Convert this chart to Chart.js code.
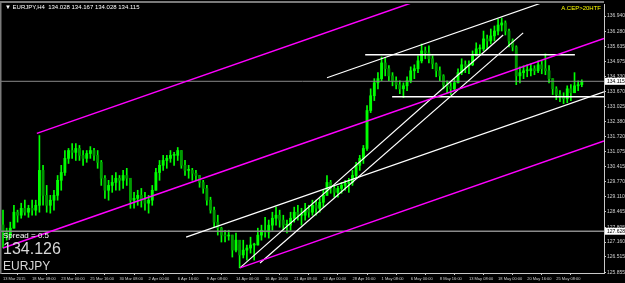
<!DOCTYPE html>
<html>
<head>
<meta charset="utf-8">
<script src="https://cdn.jsdelivr.net/npm/chart.js@4.4.1/dist/chart.umd.min.js"></script>
<style>
    html, body { margin: 0; padding: 0; background: #000; }
    #wrap { width: 625px; height: 283px; }
</style>
</head>
<body>
<div id="wrap"><canvas id="chart" width="625" height="283"></canvas></div>
<script>
// EURJPY H4, one element = two H4 bars
const xLabels = ["13 Mar 2015", "18 Mar 08:00", "23 Mar 00:00", "25 Mar 16:00", "30 Mar 08:00",
    "2 Apr 00:00", "6 Apr 16:00", "9 Apr 08:00", "14 Apr 00:00", "16 Apr 16:00", "21 Apr 08:00",
    "24 Apr 00:00", "28 Apr 16:00", "1 May 08:00", "6 May 00:00", "8 May 16:00", "13 May 08:00",
    "18 May 00:00", "20 May 16:00", "25 May 08:00"];
const labelStep = 8;

const yTicks = [136.940, 136.280, 135.635, 134.975, 134.330, 133.670, 133.025, 132.380, 131.720,
    131.075, 130.415, 129.770, 129.110, 128.465, 127.805, 127.160, 126.515, 125.855];

const highs = [
    128.54,127.76,128.02,128.75,128.54,128.84,128.97,128.75,128.97,128.97,
    131.77,130.48,129.61,129.18,129.40,130.04,130.48,131.12,131.21,131.42,
    131.42,131.34,131.12,131.12,131.29,131.21,131.12,130.69,130.04,129.83,
    130.04,130.17,130.04,130.26,130.35,129.83,129.31,129.40,129.48,129.31,
    129.18,129.61,130.35,130.69,130.91,130.91,131.12,131.04,131.25,131.12,
    130.69,130.48,130.35,130.26,130.04,129.83,129.61,129.10,128.67,128.32,
    127.80,127.67,127.67,127.46,127.55,127.03,127.24,127.03,127.37,127.11,
    127.76,127.89,128.23,128.11,128.45,128.67,128.54,128.32,128.11,128.45,
    128.67,128.75,128.62,128.84,128.75,128.97,128.97,129.05,129.40,130.04,
    129.83,129.61,129.57,129.74,129.83,129.92,130.26,130.61,130.91,131.34,
    133.06,133.79,134.23,134.49,135.17,135.13,134.79,134.49,134.31,134.14,
    134.05,134.31,134.74,134.83,135.22,135.73,135.60,135.65,135.22,134.91,
    134.74,134.40,134.14,134.05,134.23,134.66,135.09,135.00,135.00,135.43,
    135.78,135.69,136.29,136.12,136.38,136.51,136.81,136.85,136.73,136.38,
    135.95,135.65,134.74,134.79,134.83,134.87,134.79,135.00,135.00,135.30,
    134.79,134.23,133.88,133.71,133.62,133.92,133.97,134.49,134.14,134.18
];
const lows = [
    126.90,127.24,127.33,127.76,128.02,128.19,128.32,128.23,128.32,128.32,
    128.45,128.75,128.45,128.41,128.54,128.97,129.40,130.04,130.56,130.78,
    130.69,130.69,130.48,130.61,130.78,130.69,130.35,129.61,129.05,128.97,
    129.31,129.40,129.40,129.48,129.61,128.62,128.62,128.75,128.67,128.54,
    128.41,128.75,129.40,129.83,130.26,130.35,130.61,130.48,130.69,130.35,
    130.04,129.92,129.83,129.83,129.53,129.27,128.75,128.41,127.80,127.46,
    127.16,127.16,127.24,126.51,126.73,126.04,126.47,126.38,126.68,126.38,
    127.03,127.24,127.37,127.33,127.67,127.89,127.80,127.67,127.55,127.67,
    128.02,128.11,127.89,128.11,128.23,128.32,128.32,128.45,128.67,129.18,
    129.27,129.10,129.10,129.27,129.40,129.31,129.61,129.92,130.26,130.56,
    131.12,132.76,133.28,133.79,134.14,134.35,134.14,133.92,133.79,133.58,
    133.41,133.71,134.05,134.23,134.49,134.91,135.09,134.91,134.66,134.31,
    134.14,133.79,133.62,133.54,133.71,134.05,134.40,134.49,134.44,134.79,
    135.22,135.26,135.43,135.52,135.73,135.86,136.12,136.29,136.12,135.60,
    135.43,133.97,134.05,134.23,134.31,134.35,134.40,134.49,134.44,134.40,
    134.05,133.54,133.32,133.23,133.15,133.19,133.28,133.62,133.71,133.88
];
const closes = [
    127.59,127.46,127.76,128.45,128.32,128.62,128.45,128.62,128.54,128.75,
    130.26,129.18,128.75,128.97,129.18,129.83,130.17,130.78,131.12,131.04,
    131.21,130.91,130.78,130.99,131.12,130.91,130.61,129.92,129.40,129.61,
    129.74,129.92,129.83,130.04,129.92,128.97,129.05,129.18,128.97,128.84,
    128.97,129.40,130.17,130.48,130.69,130.78,130.91,130.91,131.12,130.48,
    130.26,130.26,130.13,130.04,129.74,129.48,128.97,128.54,128.02,127.76,
    127.46,127.42,127.46,126.81,127.24,126.60,126.81,126.90,127.03,127.03,
    127.46,127.67,127.59,127.89,128.19,128.32,128.11,127.89,127.89,128.19,
    128.45,128.32,128.32,128.54,128.45,128.75,128.62,128.88,129.18,129.74,
    129.48,129.31,129.48,129.61,129.70,129.74,130.04,130.48,130.78,131.21,
    132.85,133.49,134.05,134.23,134.91,134.66,134.35,134.14,133.97,133.79,
    133.92,134.14,134.57,134.66,135.00,135.43,135.35,135.09,134.87,134.57,
    134.35,133.97,133.88,133.79,134.05,134.49,134.83,134.79,134.83,135.22,
    135.52,135.52,135.95,135.86,136.08,136.29,136.55,136.64,136.29,135.86,
    135.60,134.35,134.49,134.57,134.57,134.66,134.57,134.83,134.66,134.57,
    134.23,133.79,133.54,133.45,133.36,133.79,133.62,133.92,133.97,134.115
];
const firstOpen = 127.90;
const opens = closes.map((c, i) => i === 0 ? firstOpen : closes[i - 1]);

// drawn objects: [bar index, price]
const magentaUpper = [{x: 9.3, y: 131.86}, {x: 165.1, y: 140.41}];
const magentaMiddle = [{x: 0, y: 126.90}, {x: 165.1, y: 135.97}];
const magentaLower = [{x: 65.1, y: 126.04}, {x: 165.1, y: 131.53}];
const whiteSupport = [{x: 50.3, y: 127.37}, {x: 165.1, y: 133.66}];
const whiteTop = [{x: 89.0, y: 134.27}, {x: 165.1, y: 138.45}];
const whiteSteep1 = [{x: 65.1, y: 126.04}, {x: 137.4, y: 136.12}];
const whiteSteep2 = [{x: 70.6, y: 126.25}, {x: 142.9, y: 136.21}];
const whiteHighLevel = [{x: 99.5, y: 135.26}, {x: 157.1, y: 135.26}];
const whiteLowLevel = [{x: 106.9, y: 133.45}, {x: 165.1, y: 133.45}];

const bidPrice = 134.115;
const lowerLevel = 127.628;
const xMin = -0.55, xMax = 165.1;
const yMin = 125.82, yMax = 137.46;

const titleText = "\u25BC EURJPY,H4  134.028 134.167 134.028 134.115";
const indicatorText = "A.CEP>20HTF";
const spreadText = "Spread = 0.5";
const bigPrice = "134.126";
const symbolText = "EURJPY";

const xAxisFont = { family: '"Liberation Sans", sans-serif', size: 4 };
const yAxisFont = { family: '"Liberation Sans", sans-serif', size: 5 };

function lineSet(points, color, width) {
    return {
        type: 'line',
        data: points,
        borderColor: color,
        borderWidth: width,
        pointRadius: 0,
        fill: false,
        order: 1
    };
}

const mtPlugin = {
    id: 'mt',
    beforeDraw(chart) {
        const ctx = chart.ctx;
        ctx.save();
        ctx.fillStyle = '#000';
        ctx.fillRect(0, 0, chart.width, chart.height);
        ctx.restore();
    },
    afterDraw(chart) {
        const ctx = chart.ctx;
        const area = chart.chartArea;
        const y = chart.scales.y;
        ctx.save();
        // frame
        ctx.fillStyle = '#7a7a7a';
        ctx.fillRect(0, 1, area.right, 2);
        ctx.fillRect(0, 1, 1.5, area.bottom);

        ctx.textBaseline = 'middle';
        ctx.fillStyle = '#ffffff';
        ctx.font = '6px "Liberation Sans"';
        ctx.textAlign = 'left';
        ctx.fillText(titleText, 5, 7);

        ctx.fillStyle = '#ffff00';
        ctx.textAlign = 'right';
        ctx.fillText(indicatorText, 601, 8);

        ctx.textAlign = 'left';
        ctx.fillStyle = '#ffffff';
        ctx.font = '8px "Liberation Sans"';
        ctx.fillText(spreadText, 3, 236);
        ctx.fillStyle = '#d8d8d8';
        ctx.font = '16px "Liberation Sans"';
        ctx.fillText(bigPrice, 3, 250);
        ctx.font = '12px "Liberation Sans"';
        ctx.fillText(symbolText, 3, 267);

        // price boxes on the scale
        ctx.font = '5px "Liberation Sans"';
        [bidPrice, lowerLevel].forEach(p => {
            const py = y.getPixelForValue(p);
            ctx.fillStyle = '#ffffff';
            ctx.fillRect(area.right + 1, py - 3.5, 20, 7);
            ctx.fillStyle = '#000000';
            ctx.fillText(p.toFixed(3), area.right + 3, py + 0.5);
        });
        ctx.restore();
    }
};

const bodyColor = (c) => {
    const i = c.dataIndex;
    return closes[i] >= opens[i] ? '#00ff00' : '#009a00';
};

const config = {
    type: 'bar',
    data: {
        datasets: [
            lineSet(magentaUpper, '#ff00ff', 1.5),
            lineSet(magentaMiddle, '#ff00ff', 1.5),
            lineSet(magentaLower, '#ff00ff', 1.5),
            lineSet(whiteSupport, '#ffffff', 1.2),
            lineSet(whiteTop, '#ffffff', 1.2),
            lineSet(whiteSteep1, '#ffffff', 1.2),
            lineSet(whiteSteep2, '#ffffff', 1.2),
            lineSet(whiteHighLevel, '#ffffff', 1.5),
            lineSet(whiteLowLevel, '#ffffff', 1.5),
            {
                type: 'bar',
                data: closes.map((c, i) => ({x: i, y: [opens[i], c]})),
                backgroundColor: bodyColor,
                barThickness: 2.2,
                minBarLength: 1,
                grouped: false,
                order: 2
            },
            {
                type: 'bar',
                data: highs.map((h, i) => ({x: i, y: [lows[i], h]})),
                backgroundColor: '#00ff00',
                barThickness: 1,
                grouped: false,
                order: 3
            },
            lineSet([{x: xMin, y: bidPrice}, {x: xMax, y: bidPrice}], '#8a8a8a', 1),
            lineSet([{x: xMin, y: lowerLevel}, {x: xMax, y: lowerLevel}], '#8a8a8a', 1.5)
        ]
    },
    options: {
        responsive: false,
        animation: false,
        layout: { padding: { top: 3, left: 1, right: 0, bottom: 0 } },
        plugins: { legend: { display: false }, tooltip: { enabled: false } },
        scales: {
            x: {
                type: 'linear',
                min: xMin,
                max: xMax,
                offset: false,
                afterFit: s => { s.height = 10; },
                afterBuildTicks: s => { s.ticks = xLabels.map((l, k) => ({value: k * labelStep})); },
                grid: { drawOnChartArea: false, drawTicks: true, tickLength: 2, color: '#c8c8c8' },
                border: { color: '#c8c8c8', width: 1 },
                ticks: {
                    autoSkip: false,
                    maxRotation: 0,
                    align: 'start',
                    padding: 1,
                    color: '#d0d0d0',
                    font: xAxisFont,
                    callback: (v, i) => xLabels[i]
                }
            },
            y: {
                position: 'right',
                min: yMin,
                max: yMax,
                afterFit: s => { s.width = 21; },
                afterBuildTicks: s => { s.ticks = yTicks.map(v => ({value: v})); },
                grid: { drawOnChartArea: false, drawTicks: true, tickLength: 2, color: '#c8c8c8' },
                border: { color: '#c8c8c8', width: 1 },
                ticks: {
                    autoSkip: false,
                    padding: 1,
                    color: '#d0d0d0',
                    font: yAxisFont,
                    callback: v => v.toFixed(3)
                }
            }
        }
    },
    plugins: [mtPlugin]
};

new Chart(document.getElementById('chart'), config);
</script>
</body>
</html>
